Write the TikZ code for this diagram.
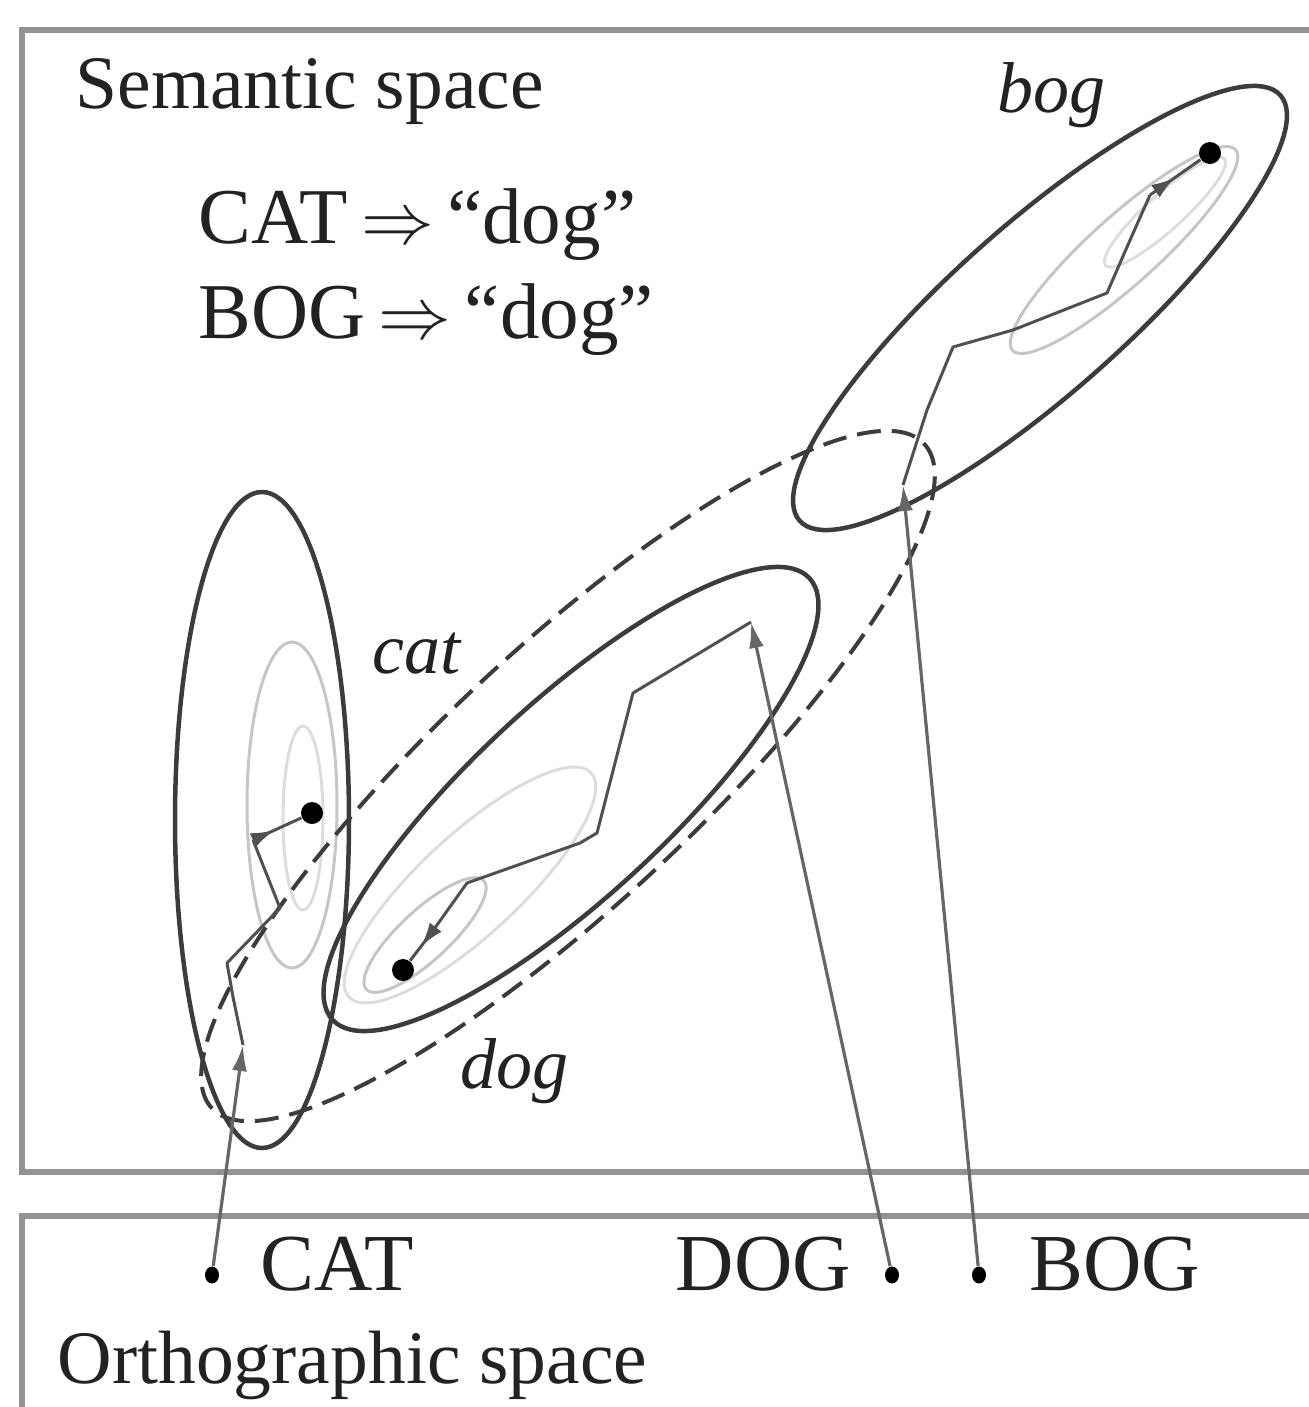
\documentclass[tikz,border=0pt]{standalone}
\usepackage{fontspec}
\setmainfont{Liberation Serif}
\usepackage{tikz}
\usepackage{xcolor}
\usetikzlibrary{
  positioning, arrows.meta, shapes.geometric, calc, decorations.markings,
}
\definecolor{cInk}      {HTML}{3C3C3C}
\definecolor{cWalk}     {HTML}{505050}
\definecolor{cLink}     {HTML}{666666}
\definecolor{cContour}  {HTML}{C6C6C6}
\definecolor{cContourLt}{HTML}{DDDDDD}
\definecolor{cFrame}    {HTML}{939393}
\definecolor{cText}     {HTML}{222222}

\tikzset{
  lbl/.style={font=\fontsize{21.5}{24}\selectfont, anchor=base west,
              inner sep=0pt, text=cText},
  wlbl/.style={lbl, font=\fontsize{23}{26}\selectfont},
  ilbl/.style={lbl, font=\fontsize{20.5}{24}\selectfont\itshape},
  attractor/.style={circle, fill=black, inner sep=0pt, minimum size=2.2mm},
  wdot/.style={ellipse, fill=black, inner sep=0pt, minimum width=1.4mm,
               minimum height=1.7mm},
  region/.style={draw=cInk, line width=0.45mm},
  guess/.style={draw=cInk, line width=0.4mm, dash pattern=on 2.4mm off 1.1mm},
  contour/.style={draw=#1, line width=0.3mm},
  contour/.default=cContour,
  walk/.style={draw=cWalk, line width=0.3mm, line join=round},
  link/.style={draw=cLink, line width=0.32mm},
  tip/.style={-{Latex[length=2.6mm, width=1.5mm]}},
  headarrow/.style={postaction={decorate}, decoration={markings,
      mark=at position #1 with {\arrow{Latex[length=2.4mm, width=1.5mm]}}}},
}

\begin{document}
\begin{tikzpicture}[x=0.1mm, y=-0.1mm]
  \useasboundingbox (0,0) rectangle (1309,1407);

  % panels
  \draw[cFrame, line width=0.55mm] (1309,30) -- (22,30) -- (22,1172) -- (1309,1172);
  \draw[cFrame, line width=0.55mm] (1309,1216) -- (22,1216) -- (22,1407);

  % cat basin
  \draw[contour] (292,805) ellipse [x radius=45, y radius=163];
  \draw[contour=cContourLt] (303,818) ellipse [x radius=20, y radius=92];
  \draw[region] (262,820) ellipse [x radius=87, y radius=328];

  % dog basin
  \draw[contour=cContourLt] (470,885) ellipse [x radius=165, y radius=50, rotate=42.8];
  \draw[contour] (425,935) ellipse [x radius=80, y radius=25, rotate=42.8];
  \draw[region] (571,799) ellipse [x radius=325, y radius=97, rotate=42.8];

  % bog basin
  \draw[contour] (1124,250) ellipse [x radius=150, y radius=34, rotate=42];
  \draw[contour=cContourLt] (1165,212) ellipse [x radius=80, y radius=18, rotate=42];
  \draw[region] (1040,308) ellipse [x radius=321, y radius=85, rotate=41.5];

  % dashed region
  \draw[guess] (568,776) ellipse [x radius=487, y radius=128, rotate=43];

  % attractors
  \node[attractor] (catatt) at (312,813) {};
  \node[attractor] (dogatt) at (403,970) {};
  \node[attractor] (bogatt) at (1210,153) {};

  % word forms
  \node[wdot] (catw) at (212,1275) {};
  \node[wdot] (dogw) at (892,1275) {};
  \node[wdot] (bogw) at (979,1275) {};
  \coordinate (catin) at (243,1045);
  \coordinate (dogin) at (751,622);
  \coordinate (bogin) at (903,485);

  \draw[link, tip] (catw) -- (catin);
  \draw[link, tip] (dogw) -- (dogin);
  \draw[link, tip] (bogw) -- (bogin);

  % settling paths
  \draw[walk] (catin) -- (233,997) -- (227,963) -- (280,908) -- (253,840) coordinate (catlast);
  \draw[walk, headarrow=0.45] (catlast) -- (catatt);
  \draw[walk] (dogin) -- (633,693) -- (597,833) -- (580,843) -- (467,883) -- (432,932) coordinate (doglast);
  \draw[walk, headarrow=0.5] (doglast) -- (dogatt);
  \draw[walk] (bogin) -- (927,410) -- (953,347) -- (1013,330) -- (1107,293) -- (1127,247) -- (1150,195) coordinate (boglast);
  \draw[walk, headarrow=0.5] (boglast) -- (bogatt);

  % labels
  \node[lbl] (semlbl) at (75,108) {Semantic space};
  \node[lbl, font=\fontsize{22.5}{26}\selectfont] (rule1) at (198,243) {CAT\,$\Rightarrow$\,``dog''};
  \node[lbl, font=\fontsize{22.5}{26}\selectfont] (rule2) at (198,338) {BOG\,$\Rightarrow$\,``dog''};
  \node[ilbl] (boglbl) at (997,112) {bog};
  \node[ilbl] (catlbl) at (372,673) {cat};
  \node[ilbl] (doglbl) at (460,1088) {dog};
  \node[wlbl] (catword) at (260,1290) {CAT};
  \node[wlbl] (dogword) at (675,1290) {DOG};
  \node[wlbl] (bogword) at (1029,1290) {BOG};
  \node[lbl] (ortholbl) at (57,1383) {Orthographic space};
\end{tikzpicture}
\end{document}
